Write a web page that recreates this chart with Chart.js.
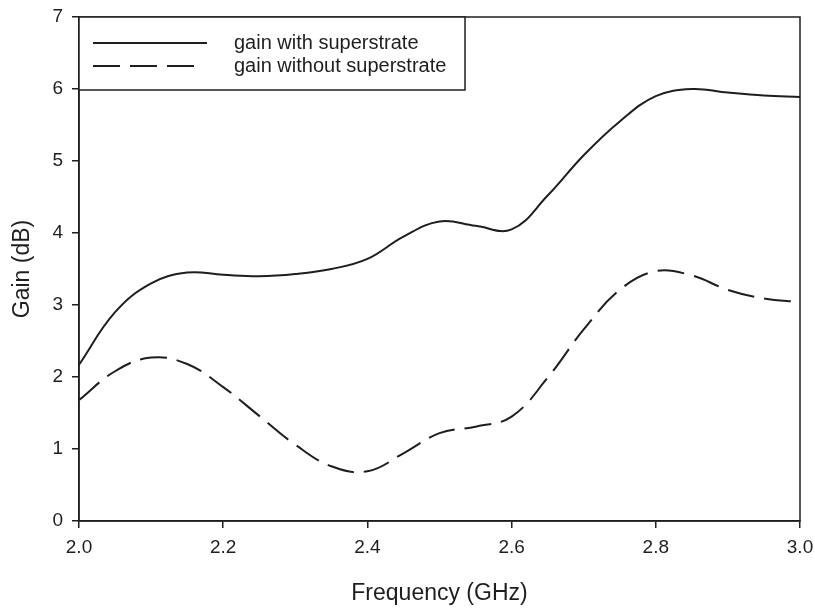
<!DOCTYPE html>
<html>
<head>
<meta charset="utf-8">
<script src="https://cdn.jsdelivr.net/npm/chart.js@4.4.1/dist/chart.umd.min.js"></script>
<style>
  html, body { margin: 0; padding: 0; background: #fff; }
  #wrap { width: 815px; height: 609px; }
</style>
</head>
<body>
<div id="wrap"><canvas id="myChart" width="815" height="609"></canvas></div>
<script>
// Frecuencia (GHz) y ganancia (dB)
const frecuencias = [2.00, 2.05, 2.10, 2.15, 2.20, 2.25, 2.30, 2.35, 2.40, 2.45, 2.50,
                     2.55, 2.60, 2.65, 2.70, 2.75, 2.80, 2.85, 2.90, 2.95, 3.00];
const gananciaCon = [2.17, 2.90, 3.30, 3.45, 3.42, 3.40, 3.43, 3.50, 3.64, 3.95, 4.16,
                     4.10, 4.05, 4.52, 5.08, 5.55, 5.90, 6.00, 5.95, 5.91, 5.89];
const gananciaSin = [1.68, 2.08, 2.27, 2.18, 1.86, 1.46, 1.06, 0.76, 0.69, 0.94, 1.22,
                     1.31, 1.45, 1.99, 2.66, 3.21, 3.47, 3.41, 3.21, 3.09, 3.04];
const ticksX = [2.0, 2.2, 2.4, 2.6, 2.8, 3.0];
const ticksY = [0, 1, 2, 3, 4, 5, 6, 7];

const etiquetas = ["gain with superstrate", "gain without superstrate"];
const tinta = "#1e1e1e";
const fuente = "'Liberation Sans', Arial, sans-serif";

function puntos(serie) {
    return frecuencias.map((f, i) => ({ x: f, y: serie[i] }));
}

// Marco completo alrededor del area de datos
const marco = {
    id: 'marco',
    afterDraw: (chart) => {
        const { ctx, chartArea: a } = chart;
        ctx.save();
        ctx.strokeStyle = tinta;
        ctx.lineWidth = 1.5;
        ctx.strokeRect(a.left, a.top, a.right - a.left, a.bottom - a.top);
        ctx.restore();
    }
};

// Leyenda con recuadro, arriba a la izquierda
const leyenda = {
    id: 'leyenda',
    afterDraw: (chart) => {
        const { ctx, chartArea: a } = chart;
        const x0 = a.left, y0 = a.top;
        ctx.save();
        ctx.fillStyle = "#fff";
        ctx.fillRect(x0, y0, 386, 73);
        ctx.strokeStyle = tinta;
        ctx.lineWidth = 1.5;
        ctx.strokeRect(x0, y0, 386, 73);
        chart.data.datasets.forEach((ds, i) => {
            const y = y0 + 26 + i * 23;
            ctx.beginPath();
            ctx.setLineDash(ds.borderDash || []);
            ctx.lineWidth = ds.borderWidth;
            ctx.moveTo(x0 + 14, y);
            ctx.lineTo(x0 + (ds.borderDash ? 118 : 128), y);
            ctx.stroke();
            ctx.setLineDash([]);
            ctx.fillStyle = tinta;
            ctx.font = "20px " + fuente;
            ctx.textBaseline = "middle";
            ctx.fillText(ds.label, x0 + 155, y);
        });
        ctx.restore();
    }
};

const config = {
    type: "line",
    data: {
        datasets: [{
            label: etiquetas[0],
            data: puntos(gananciaCon),
            borderColor: tinta,
            borderWidth: 2,
            pointRadius: 0,
            tension: 0.4
        }, {
            label: etiquetas[1],
            data: puntos(gananciaSin),
            borderColor: tinta,
            borderWidth: 2,
            borderDash: [27, 10],
            pointRadius: 0,
            tension: 0.4
        }]
    },
    options: {
        responsive: false,
        animation: false,
        layout: { padding: { top: 17, right: 15, left: 0, bottom: 0 } },
        plugins: { legend: { display: false }, tooltip: { enabled: false } },
        scales: {
            x: {
                type: 'linear',
                min: 2.0,
                max: 3.0,
                afterFit: (s) => { s.height = 88; s.paddingLeft = 0; s.paddingRight = 0; },
                afterBuildTicks: (s) => { s.ticks = ticksX.map(v => ({ value: v })); },
                ticks: {
                    color: tinta,
                    font: { family: fuente, size: 19 },
                    padding: 8,
                    maxRotation: 0,
                    callback: (v) => v.toFixed(1)
                },
                grid: { drawOnChartArea: false, drawTicks: true, tickLength: 7, color: tinta, lineWidth: 1.5 },
                border: { display: true, color: tinta, width: 1.5 },
                title: {
                    display: true,
                    text: "Frequency (GHz)",
                    color: tinta,
                    font: { family: fuente, size: 23 },
                    padding: { top: 20, bottom: 2 }
                }
            },
            y: {
                min: 0,
                max: 7,
                afterFit: (s) => { s.width = 79; s.paddingTop = 0; s.paddingBottom = 0; },
                afterBuildTicks: (s) => { s.ticks = ticksY.map(v => ({ value: v })); },
                ticks: {
                    color: tinta,
                    font: { family: fuente, size: 19 },
                    padding: 9
                },
                grid: { drawOnChartArea: false, drawTicks: true, tickLength: 7, color: tinta, lineWidth: 1.5 },
                border: { display: true, color: tinta, width: 1.5 },
                title: {
                    display: true,
                    text: "Gain (dB)",
                    color: tinta,
                    font: { family: fuente, size: 23 },
                    padding: { top: 9, bottom: 0 }
                }
            }
        }
    },
    plugins: [marco, leyenda]
};

new Chart(document.querySelector("#myChart"), config);
</script>
</body>
</html>
